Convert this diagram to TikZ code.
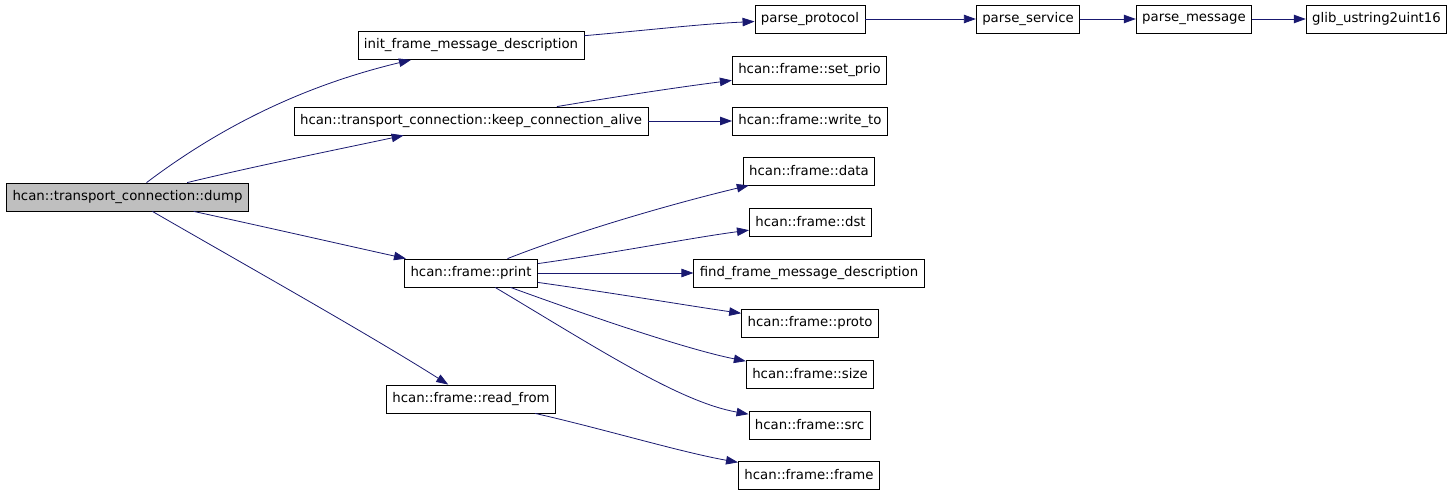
\documentclass[tikz,border=0pt]{standalone}
\usepackage{fontspec}
\setmainfont{DejaVu Sans}
\usetikzlibrary{arrows.meta}
\definecolor{callblue}{RGB}{25,25,112}
\definecolor{rootgray}{RGB}{191,191,191}
\begin{document}
\begin{tikzpicture}[x=1pt, y=-1pt,
  func/.style={rectangle, draw=black, line width=0.8pt, fill=white,
               minimum height=28pt, inner xsep=6pt, inner ysep=0pt,
               font=\fontsize{13.3}{16}\selectfont},
  focus/.style={func, fill=rootgray},
  arr/.style={-{Triangle[length=12pt,width=8.5pt]}, line width=0.8pt, callblue}
]
\useasboundingbox (0,0) rectangle (1453,493);
\node[focus] (dump)       at (127.5,197) {hcan::transport\_connection::dump};
\node[func]  (initdesc)   at (471,45.5)  {init\_frame\_message\_description};
\node[func]  (keepalive)  at (471,121)   {hcan::transport\_connection::keep\_connection\_alive};
\node[func]  (print)      at (471,273)   {hcan::frame::print};
\node[func]  (readfrom)   at (471,399)   {hcan::frame::read\_from};
\node[func]  (parseproto) at (810,19)    {parse\_protocol};
\node[func]  (parseserv)  at (1028,19)   {parse\_service};
\node[func]  (parsemsg)   at (1194,19)   {parse\_message};
\node[func]  (glibu16)    at (1376.5,19) {glib\_ustring2uint16};
\node[func]  (setprio)    at (809.5,70.5) {hcan::frame::set\_prio};
\node[func]  (writeto)    at (810,121)   {hcan::frame::write\_to};
\node[func]  (fdata)      at (809,171)   {hcan::frame::data};
\node[func]  (fdst)       at (810.5,222) {hcan::frame::dst};
\node[func]  (findesc)    at (809,273)   {find\_frame\_message\_description};
\node[func]  (fproto)     at (810,323)   {hcan::frame::proto};
\node[func]  (fsize)      at (810,374)   {hcan::frame::size};
\node[func]  (fsrc)       at (809.5,425) {hcan::frame::src};
\node[func]  (fframe)     at (809,475)   {hcan::frame::frame};
\draw[arr] (dump) .. controls (236,115) and (323,81) .. (initdesc);
\draw[arr] (dump) .. controls (260,165) and (340,149) .. (keepalive);
\draw[arr] (dump) .. controls (270,228) and (340,244) .. (print);
\draw[arr] (dump) .. controls (240,262) and (370,335) .. (readfrom);
\draw[arr] (initdesc) .. controls (650,30) and (700,24) .. (parseproto);
\draw[arr] (parseproto) -- (parseserv);
\draw[arr] (parseserv) -- (parsemsg);
\draw[arr] (parsemsg) -- (glibu16);
\draw[arr] (keepalive) .. controls (620,96) and (680,87) .. (setprio);
\draw[arr] (keepalive) -- (writeto);
\draw[arr] (print) .. controls (575,232) and (671,204) .. (fdata);
\draw[arr] (print) .. controls (620,252) and (690,238) .. (fdst);
\draw[arr] (print) -- (findesc);
\draw[arr] (print) .. controls (620,294) and (690,306) .. (fproto);
\draw[arr] (print) .. controls (600,320) and (690,350) .. (fsize);
\draw[arr] (print) .. controls (600,350) and (680,402) .. (fsrc);
\draw[arr] (readfrom) .. controls (600,428) and (680,452) .. (fframe);
\end{tikzpicture}
\end{document}
